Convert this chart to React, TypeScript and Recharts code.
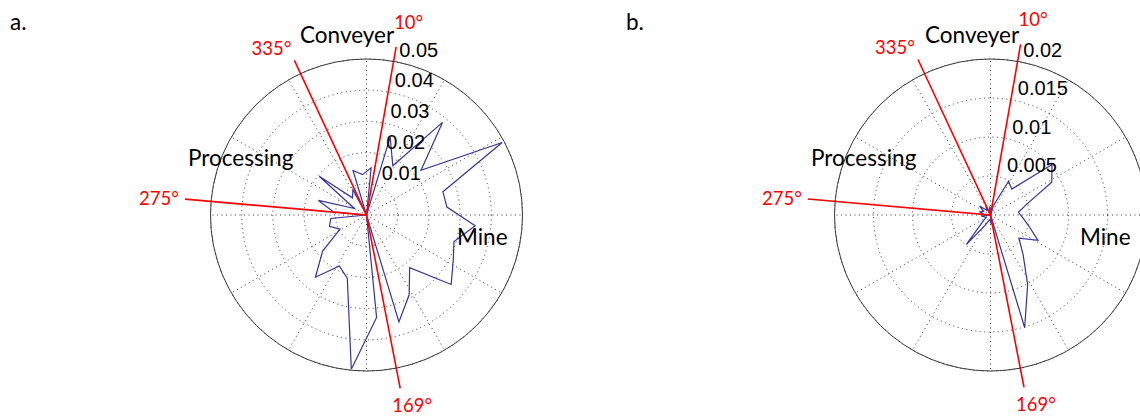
import { RadarChart, Radar, PolarGrid, PolarAngleAxis, PolarRadiusAxis } from "recharts";

// 32 direction bins, bearing in degrees clockwise from north
const bearings = [
  5.625, 16.875, 28.125, 39.375, 50.625, 61.875, 73.125, 84.375,
  95.625, 106.875, 118.125, 129.375, 140.625, 151.875, 163.125, 174.375,
  185.625, 196.875, 208.125, 219.375, 230.625, 241.875, 253.125, 264.375,
  275.625, 286.875, 298.125, 309.375, 320.625, 331.875, 343.125, 354.375,
];

// panel a: relative frequency per bin
const freqA = [
  0.0152, 0.0261, 0.0179, 0.0384, 0.0226, 0.0493, 0.0256, 0.0259,
  0.035, 0.0293, 0.0315, 0.0351, 0.0218, 0.029, 0.0358, 0.033,
  0.0497, 0.0212, 0.0185, 0.0258, 0.0182, 0.0096, 0.0124, 0.0115,
  0.0107, 0.0161, 0.0044, 0.0196, 0.0071, 0.0092, 0.0149, 0.013,
];

// panel b
const freqB = [
  0.0008, 0.0012, 0.0049, 0.0043, 0.0102, 0.0089, 0.0049, 0.0036,
  0.0042, 0.0052, 0.0069, 0.0047, 0.0066, 0.0101, 0.0151, 0.0012,
  0.0006, 0.0008, 0.0015, 0.0049, 0.0012, 0.0006, 0.0008, 0.0012,
  0.0009, 0.0014, 0.001, 0.0018, 0.0008, 0.0012, 0.0006, 0.001,
];

// red direction lines (bearing) and how far they reach, in axis units
const rayAngles = [10, 169, 275, 335];
const rayReachA = [0.0547, 0.0566, 0.0584, 0.0547];
const rayReachB = [0.0222, 0.0225, 0.0235, 0.022];

// ring ticks
const ringsA = [0.01, 0.02, 0.03, 0.04, 0.05];
const ringsB = [0.005, 0.01, 0.015, 0.02];

const gridAngles = [0, 30, 60, 90, 120, 150, 180, 210, 240, 270, 300, 330];

const OUTER = 156;

const rayLabelPos: Record<number, { dx: number; dy: number; anchor: "start" | "end" }> = {
  10: { dx: -2, dy: -18, anchor: "start" },
  169: { dx: -8, dy: 24, anchor: "start" },
  275: { dx: -6, dy: 6, anchor: "end" },
  335: { dx: -3, dy: -5, anchor: "end" },
};

type Row = { deg: number; freq: number | null; ray: number };

function buildRows(freq: number[], reach: number[]): Row[] {
  const rows: Row[] = bearings.map((deg, i) => ({ deg, freq: freq[i], ray: 0 }));
  rayAngles.forEach((deg, i) => rows.push({ deg, freq: null, ray: reach[i] }));
  return rows.sort((a, b) => a.deg - b.deg);
}

const fmt = (v: number) => String(Number(Number(v).toFixed(4)));

const renderTick = (props: any) => {
  const v = props.payload?.value;
  if (!v) return <g key={`t-${props.index}`} />;
  return (
    <text
      key={`t-${props.index}`}
      x={props.x + 11}
      y={props.y - 4}
      fontSize={20}
      fontFamily="Liberation Sans, Arial, sans-serif"
      fill="#000"
    >
      {fmt(v)}
    </text>
  );
};

const renderRayLabel = (props: any) => {
  const row = props.payload?.payload ?? props.payload;
  if (!row || !row.ray) return <g key={`d-${props.index}`} />;
  const p = rayLabelPos[row.deg];
  return (
    <text
      key={`d-${props.index}`}
      x={props.cx + p.dx}
      y={props.cy + p.dy}
      textAnchor={p.anchor}
      fontSize={18.5}
      fontFamily="Lato, sans-serif"
      fill="#ff0000"
    >
      {row.deg}°
    </text>
  );
};

function Rose({ rows, rings, cx, left }: { rows: Row[]; rings: number[]; cx: number; left: number }) {
  const max = rings[rings.length - 1];
  return (
    <div style={{ position: "absolute", left, top: 0 }}>
      <RadarChart
        width={570}
        height={416}
        data={rows}
        cx={cx}
        cy={215}
        innerRadius={0}
        outerRadius={OUTER}
        startAngle={90}
        endAngle={-270}
        margin={{ top: 0, right: 0, bottom: 0, left: 0 }}
      >
        <PolarGrid
          gridType="circle"
          polarAngles={gridAngles}
          polarRadius={rings.map((r) => (r / max) * OUTER)}
          stroke="#333"
          strokeDasharray="1 3.5"
        />
        <PolarAngleAxis
          type="number"
          dataKey="deg"
          domain={[0, 360]}
          tick={false}
          tickLine={false}
          stroke="#3a3a3a"
          axisLineType="circle"
        />
        <PolarRadiusAxis
          type="number"
          domain={[0, max]}
          allowDataOverflow
          ticks={rings}
          tickCount={rings.length + 1}
          angle={82}
          axisLine={false}
          tickLine={false}
          tick={renderTick}
        />
        <Radar
          dataKey="freq"
          stroke="#34349e"
          strokeWidth={1.2}
          fill="none"
          connectNulls
          dot={false}
          isAnimationActive={false}
        />
        <Radar
          dataKey="ray"
          stroke="#ff0000"
          strokeWidth={1.6}
          fill="none"
          dot={renderRayLabel}
          isAnimationActive={false}
        />
      </RadarChart>
    </div>
  );
}

const labelFont = { fontFamily: "Lato, sans-serif", fontSize: 22.5, fill: "#000" };

export default function App() {
  const rowsA = buildRows(freqA, rayReachA);
  const rowsB = buildRows(freqB, rayReachB);
  return (
    <div style={{ position: "absolute", left: 0, top: 0, width: 1140, height: 416, background: "#fff", overflow: "hidden" }}>
      <Rose rows={rowsA} rings={ringsA} cx={366.5} left={0} />
      <Rose rows={rowsB} rings={ringsB} cx={420.5} left={570} />
      <svg width={1140} height={416} style={{ position: "absolute", left: 0, top: 0, pointerEvents: "none" }}>
        <text x={10} y={30} {...labelFont}>a.</text>
        <text x={626} y={30} {...labelFont}>b.</text>
        <text x={300} y={43} {...labelFont}>Conveyer</text>
        <text x={188} y={166} {...labelFont}>Processing</text>
        <text x={457} y={245} {...labelFont}>Mine</text>
        <text x={925} y={43} {...labelFont}>Conveyer</text>
        <text x={811} y={166} {...labelFont}>Processing</text>
        <text x={1080} y={245} {...labelFont}>Mine</text>
      </svg>
    </div>
  );
}
